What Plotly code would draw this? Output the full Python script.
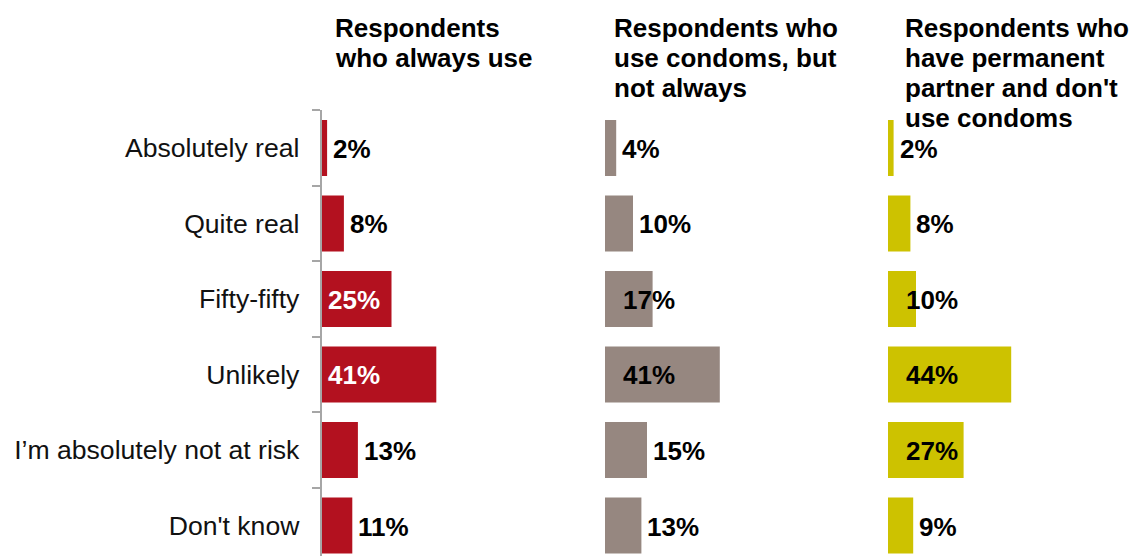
import plotly.graph_objects as go

# Survey answers: perceived personal risk, by condom-use group (percent of respondents)
categories = [
    "Absolutely real",
    "Quite real",
    "Fifty-fifty",
    "Unlikely",
    "I\u2019m absolutely not at risk",
    "Don't know",
]
always_use = [2, 8, 25, 41, 13, 11]
not_always = [4, 10, 17, 41, 15, 13]
no_condoms = [2, 8, 10, 44, 27, 9]

headers = [
    ["Respondents", "who always use"],
    ["Respondents who", "use condoms, but", "not always"],
    ["Respondents who", "have permanent", "partner and don't", "use condoms"],
]

W, H = 1136, 556
FONT = "Liberation Sans, Arial, Helvetica, sans-serif"

# panel styling: x-pixel start, bar colour, inside-label colour, inside threshold, inside inset, header x
panels = [
    dict(values=always_use, x0=321.5, color="#B3111F", in_color="#FFFFFF", min_in=20, inset=4, hx=333),
    dict(values=not_always, x0=605, color="#968780", in_color="#000000", min_in=16, inset=16, hx=612),
    dict(values=no_condoms, x0=888, color="#CDC200", in_color="#000000", min_in=10, inset=16, hx=903),
]

X_MAX = 50          # shared percent range for every panel
PX_PER_UNIT = 2.8   # pixels per percentage point
PLOT_TOP = 110.25   # pixel y of the top of the bar area
ROW_PX = 75.5       # pixel height of one category row

fig = go.Figure()
annotations = []

for i, p in enumerate(panels):
    ax = "x" if i == 0 else f"x{i + 1}"
    fig.add_trace(go.Bar(
        y=categories,
        x=p["values"],
        orientation="h",
        xaxis=ax,
        yaxis="y",
        marker=dict(color=p["color"], line=dict(width=0)),
        hoverinfo="x+y",
        showlegend=False,
    ))
    for cat, v in zip(categories, p["values"]):
        inside = v >= p["min_in"]
        annotations.append(dict(
            xref=ax, yref="y",
            x=0 if inside else v,
            y=cat,
            xanchor="left", yanchor="middle",
            xshift=p["inset"] if inside else 4,
            yshift=-1,
            text=f"{v}%",
            showarrow=False,
            font=dict(family=FONT, size=26, color=p["in_color"] if inside else "#000000", weight="bold"),
        ))
    for j, line in enumerate(headers[i]):
        annotations.append(dict(
            xref="paper", yref="paper",
            x=p["hx"] / W, y=1 - (28 + 30 * j) / H,
            xanchor="left", yanchor="middle",
            text=f"<b>{line}</b>",
            showarrow=False,
            font=dict(family=FONT, size=26, color="#000000"),
        ))

layout_axes = {}
for i, p in enumerate(panels):
    key = "xaxis" if i == 0 else f"xaxis{i + 1}"
    layout_axes[key] = dict(
        domain=[p["x0"] / W, (p["x0"] + X_MAX * PX_PER_UNIT) / W],
        range=[0, X_MAX],
        anchor="y",
        showline=False, showgrid=False, zeroline=False,
        showticklabels=False, ticks="",
        fixedrange=True,
    )

n_rows_visible = (H - PLOT_TOP) / ROW_PX
fig.update_layout(
    width=W, height=H,
    margin=dict(l=0, r=0, t=0, b=0, pad=0),
    paper_bgcolor="white", plot_bgcolor="white",
    bargap=0.258,
    yaxis=dict(
        domain=[0, 1 - PLOT_TOP / H],
        anchor="x",
        type="category",
        categoryorder="array", categoryarray=categories,
        range=[-0.5 + n_rows_visible, -0.5],
        showline=True, linecolor="#A6A6A6", linewidth=1.5,
        ticks="outside", tickson="boundaries", ticklen=8,
        tickcolor="#A6A6A6", tickwidth=1.5,
        ticklabelstandoff=15,
        tickfont=dict(family=FONT, size=26.6, color="#111111"),
        showgrid=False, zeroline=False,
        automargin=False,
        fixedrange=True,
    ),
    annotations=annotations,
    **layout_axes,
)

fig.write_html("out.html")
